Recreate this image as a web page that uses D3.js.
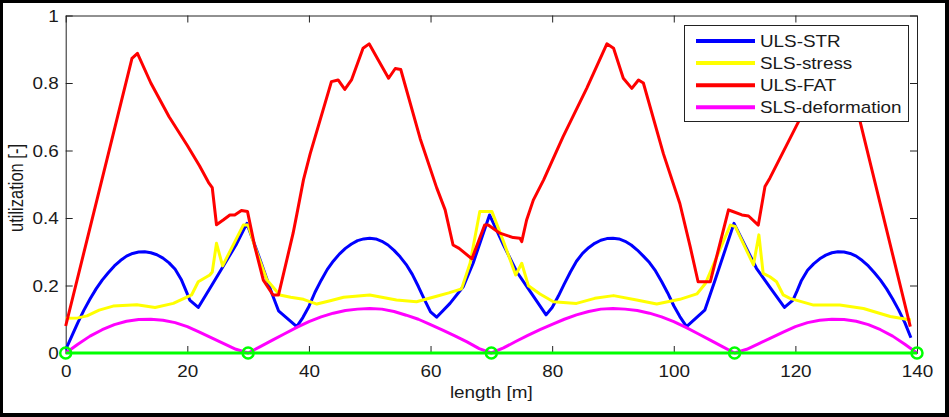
<!DOCTYPE html>
<html><head><meta charset="utf-8">
<script src="https://cdn.jsdelivr.net/npm/d3@7"></script>
<style>
html,body{margin:0;padding:0;background:#000;}
svg{display:block;}
text{font-family:"Liberation Sans",Arial,sans-serif;fill:#1a1a1a;}
</style></head>
<body>
<script>
// ---- data (x in m, utilization [-]) ----
const blueX = [0,1,2,3,4,5,6,7,8,9,10,11,12,13,14,15,16,17,18,19,20,20.4,21.8,24,26,28,29.8,32,33.9,35,38,39,40,41,42,43,44,45,46,47,48,49,50,51,52,53,54,55,56,57,58,59,60,61,63.2,65.4,67,69.7,72,74.2,76.4,79,80,81,82,83,84,85,86,87,88,89,90,91,92,93,94,95,96,97,98,99,100,101,102.1,105.1,106.8,109.9,113.6,116,118.2,119.6,120.3,121,122,123,124,125,126,127,128,129,130,131,132,133,134,135,136,137,138,139];
const blueY = [0.01,0.05,0.09,0.127,0.16,0.19,0.216,0.238,0.258,0.274,0.287,0.295,0.299,0.300,0.297,0.291,0.281,0.267,0.248,0.218,0.175,0.157,0.135,0.20,0.26,0.32,0.384,0.275,0.177,0.125,0.078,0.105,0.138,0.18,0.215,0.247,0.272,0.293,0.310,0.323,0.333,0.338,0.340,0.338,0.331,0.320,0.304,0.285,0.262,0.233,0.197,0.158,0.122,0.106,0.147,0.197,0.266,0.409,0.32,0.240,0.182,0.113,0.135,0.168,0.205,0.240,0.272,0.295,0.312,0.325,0.334,0.339,0.340,0.338,0.331,0.320,0.305,0.287,0.268,0.243,0.212,0.178,0.140,0.108,0.078,0.127,0.216,0.384,0.251,0.19,0.135,0.157,0.185,0.215,0.245,0.264,0.279,0.290,0.297,0.300,0.299,0.295,0.287,0.274,0.258,0.238,0.216,0.19,0.16,0.127,0.09,0.045];

const yellowX = [0,2,3.5,5.5,7.8,11.7,14.7,17.7,20.7,21.8,23.7,24.1,24.8,25.8,29.2,30,31.2,33.1,35.2,37,39.1,41.3,43.5,45.7,50,54.4,57.7,61,63,65.1,66.5,68.1,70.1,72,74.0,75.0,76.1,78,80.2,84,87,90.1,93.9,97.2,101,103.8,105.2,109.3,110.1,113.1,114,114.7,115.8,116.9,118,119.1,123,127.3,131.2,135.6,139];
const yellowY = [0.103,0.104,0.110,0.127,0.139,0.143,0.135,0.147,0.172,0.211,0.231,0.24,0.325,0.258,0.379,0.379,0.31,0.216,0.172,0.165,0.159,0.145,0.155,0.165,0.172,0.157,0.152,0.168,0.178,0.190,0.266,0.419,0.419,0.33,0.231,0.266,0.199,0.175,0.152,0.147,0.162,0.170,0.157,0.145,0.159,0.175,0.206,0.379,0.375,0.261,0.35,0.236,0.226,0.211,0.172,0.162,0.142,0.142,0.132,0.108,0.098];

const redX = [0,10.9,11.8,14,17,20,22,23.5,24.1,24.8,25.9,27,27.8,28.9,29.9,31.1,32.5,34.1,35,37.4,38.0,39.1,40.2,43.7,44.8,45.9,47.0,48.9,49.9,51.1,53.1,54.2,55.1,58.3,61.0,62.4,63.7,64.7,66.8,68.9,69.5,71.4,73.6,74.7,75.0,75.8,76.9,78.6,81.8,85.7,89.0,90.1,91.7,93.1,94.2,95,98.3,101,102.7,104,106,109,109.6,111.2,112.3,113.9,115,115.8,120.5,124,127.3,128.1,138.9];
const redY = [0.08,0.873,0.888,0.80,0.70,0.615,0.555,0.505,0.49,0.38,0.394,0.409,0.409,0.422,0.419,0.315,0.216,0.172,0.172,0.355,0.41,0.513,0.59,0.804,0.809,0.781,0.809,0.903,0.916,0.878,0.814,0.843,0.840,0.635,0.49,0.424,0.320,0.31,0.279,0.379,0.379,0.355,0.342,0.340,0.330,0.394,0.453,0.513,0.641,0.785,0.916,0.903,0.814,0.784,0.809,0.80,0.59,0.443,0.315,0.211,0.211,0.424,0.42,0.409,0.406,0.379,0.493,0.518,0.685,0.80,0.888,0.873,0.078];

const magentaX = [0,2,4,6,8,10,12,14,16,18,20,22,24,26,28,30,32,34,36,38,40,42,44,46,48,50,52,54,56,58,60,62,64,66,68,70,72,74,76,78,80,82,84,86,88,90,92,94,96,98,100,102,104,106,108,110,112,114,116,118,120,122,124,126,128,130,132,134,136,138,140];
const magentaY = [0,0.026,0.050,0.069,0.084,0.094,0.099,0.100,0.097,0.090,0.078,0.062,0.045,0.028,0.011,0,0.019,0.038,0.057,0.076,0.093,0.107,0.118,0.126,0.130,0.132,0.130,0.123,0.112,0.100,0.084,0.068,0.051,0.033,0.013,0,0.015,0.034,0.052,0.069,0.085,0.100,0.113,0.123,0.130,0.132,0.130,0.126,0.118,0.107,0.093,0.076,0.057,0.038,0.019,0,0.011,0.028,0.045,0.062,0.078,0.090,0.097,0.100,0.099,0.094,0.084,0.069,0.050,0.026,0];

const supportX = [0,30,70,110,140];
const supportY = [0,0,0,0,0];

const seriesNames = ["ULS-STR","SLS-stress","ULS-FAT","SLS-deformation"];
const seriesColors = ["#0000ff","#ffff00","#ff0000","#ff00ff"];
const xTicks = [0,20,40,60,80,100,120,140];
const yTicks = [0,0.2,0.4,0.6,0.8,1];
const xLabel = "length [m]";
const yLabel = "utilization [-]";

// ---- layout ----
const W = 949, H = 417;
const L = 65.7, R = 917, T = 15.5, B = 353;
const SX = 1.18; // horizontal text stretch seen in the reference

const svg = d3.select("body").append("svg").attr("width", W).attr("height", H);
svg.append("rect").attr("x",0).attr("y",0).attr("width",W).attr("height",H).attr("fill","#000");
svg.append("rect").attr("x",3).attr("y",3).attr("width",942).attr("height",410).attr("fill","#fff");

const x = d3.scaleLinear().domain([0,140]).range([L,R]);
const y = d3.scaleLinear().domain([0,1]).range([B,T]);

const fmt = d => d === 0 ? "0" : d === 1 ? "1" : d3.format(".1f")(d);

// axes
const gB = svg.append("g").attr("transform",`translate(0,${B})`)
  .call(d3.axisBottom(x).tickValues(xTicks).tickSize(-7).tickSizeOuter(0).tickFormat(d3.format("d")));
const gT = svg.append("g").attr("transform",`translate(0,${T})`)
  .call(d3.axisTop(x).tickValues(xTicks).tickSize(-7).tickSizeOuter(0).tickFormat(""));
const gL = svg.append("g").attr("transform",`translate(${L},0)`)
  .call(d3.axisLeft(y).tickValues(yTicks).tickSize(-7).tickSizeOuter(0).tickFormat(fmt));
const gR = svg.append("g").attr("transform",`translate(${R},0)`)
  .call(d3.axisRight(y).tickValues(yTicks).tickSize(-7).tickSizeOuter(0).tickFormat(""));
[gB,gT,gL,gR].forEach(g=>{
  g.selectAll("path.domain").attr("stroke","#222").attr("stroke-width",1);
  g.selectAll("line").attr("stroke","#222").attr("stroke-width",1);
  g.attr("font-family",null).attr("font-size",null);
});
gB.selectAll("text").attr("y",null).attr("dy",null)
  .attr("font-size",16).attr("fill","#1a1a1a")
  .attr("transform",`translate(0,24) scale(${SX},1)`);
gL.selectAll("text").attr("x",null).attr("dy","0.35em")
  .attr("font-size",16).attr("fill","#1a1a1a")
  .attr("transform",`translate(-7,0) scale(${SX},1)`);

// axis titles
svg.append("text").attr("text-anchor","middle").attr("font-size",16)
  .attr("transform",`translate(${(L+R)/2},398) scale(${SX},1)`).text(xLabel);
svg.append("text").attr("text-anchor","middle").attr("font-size",16.5)
  .attr("transform",`translate(23,188) scale(${SX},1) rotate(-90)`).text(yLabel);

// lines
const line = d3.line().x(d=>x(d[0])).y(d=>y(d[1]));
const series = [
  [blueX,blueY],[yellowX,yellowY],[redX,redY],[magentaX,magentaY]
];
const plot = svg.append("g");
series.forEach((s,i)=>{
  plot.append("path").datum(d3.zip(s[0],s[1]))
    .attr("d",line).attr("fill","none").attr("stroke",seriesColors[i])
    .attr("stroke-width",3).attr("stroke-linejoin","round");
});
// supports
const sup = d3.zip(supportX,supportY);
plot.append("path").datum(sup).attr("d",line).attr("fill","none")
  .attr("stroke","#00ff00").attr("stroke-width",3);
plot.selectAll("circle.sup").data(sup).join("circle")
  .attr("cx",d=>x(d[0])).attr("cy",d=>y(d[1])).attr("r",5.5)
  .attr("fill","none").attr("stroke","#00ff00").attr("stroke-width",2.5);

// legend
const lg = svg.append("g");
lg.append("rect").attr("x",684.5).attr("y",25.5).attr("width",224).attr("height",96)
  .attr("fill","#fff").attr("stroke","#222").attr("stroke-width",1);
seriesNames.forEach((n,i)=>{
  const ry = 41 + i*22.1;
  lg.append("line").attr("x1",696).attr("x2",755).attr("y1",ry).attr("y2",ry)
    .attr("stroke",seriesColors[i]).attr("stroke-width",4);
  lg.append("text").attr("font-size",16)
    .attr("transform",`translate(760,${ry+5.8}) scale(${SX},1)`).text(n);
});
</script>
</body></html>
